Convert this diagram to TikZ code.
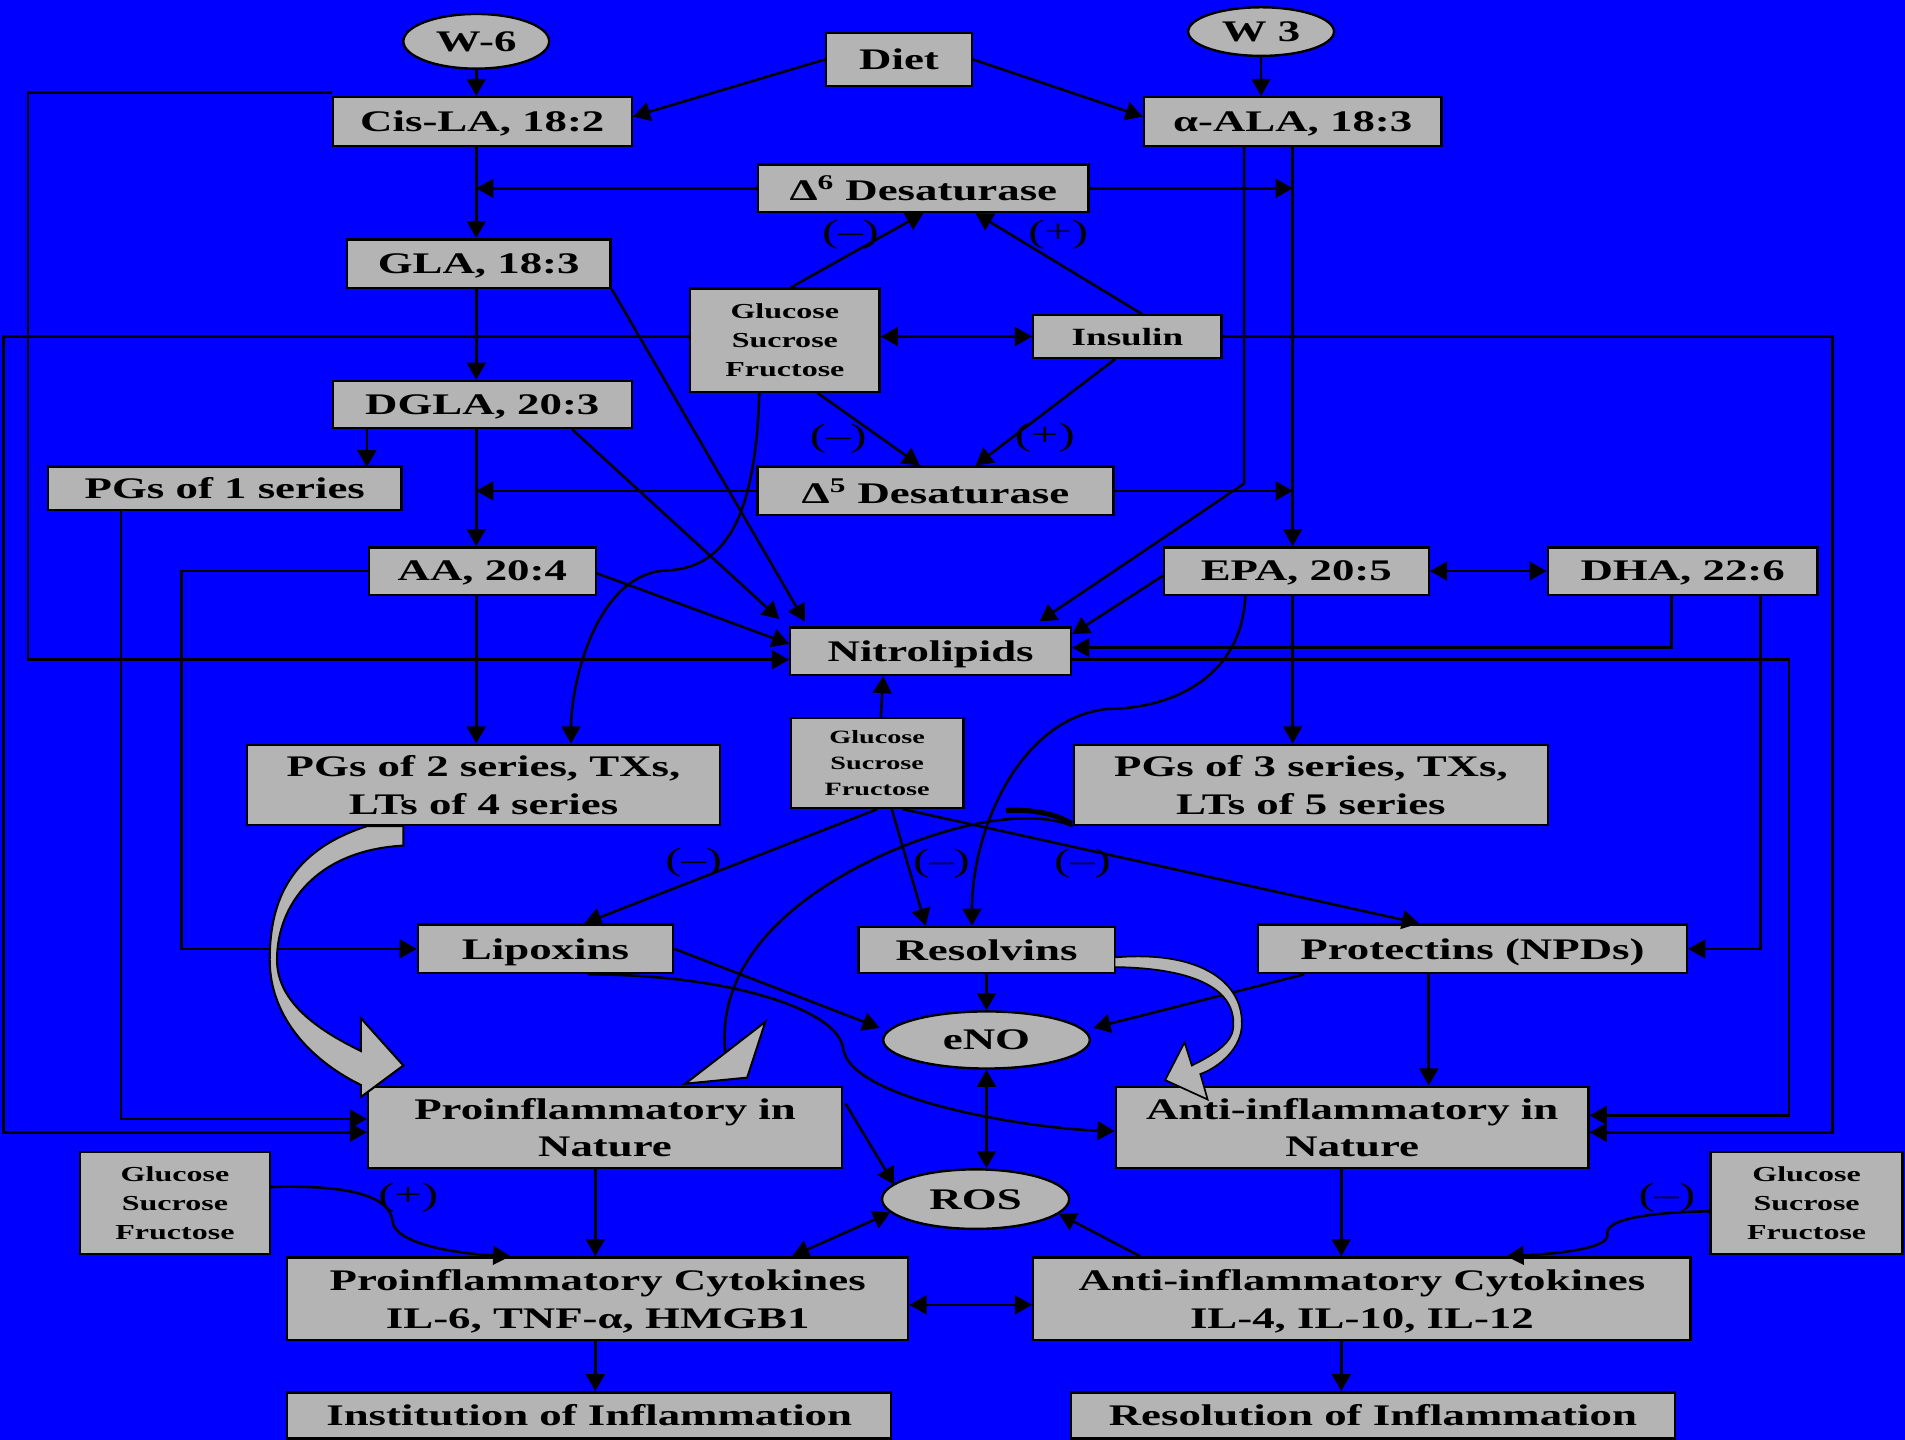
\documentclass[tikz,border=0pt]{standalone}
\usepackage{fontspec}
\setmainfont[FakeStretch=1.5]{Liberation Serif}
\usepackage{tikz}
\usetikzlibrary{arrows.meta,shapes.geometric,calc}
\definecolor{bgblue}{RGB}{0,0,255}
\definecolor{boxgray}{RGB}{180,180,180}
\newcommand{\bigtxt}{\fontsize{17.5}{22}\selectfont\bfseries}
\newcommand{\sugartxt}{\fontsize{12.5}{17}\selectfont\bfseries}
\newcommand{\midsugartxt}{\fontsize{11}{15}\selectfont\bfseries}
\newcommand{\signtxt}{\fontsize{19}{22}\selectfont}
\tikzset{
  lipidbox/.style={draw=black,fill=boxgray,line width=1.4pt,inner sep=1pt,align=center,text depth=0pt,font=\bigtxt},
  oval/.style={lipidbox,ellipse},
  sugar/.style={lipidbox,font=\sugartxt},
  flow/.style={line width=1.5pt,-{Triangle[length=10pt,width=11pt]}},
  twoway/.style={line width=1.5pt,{Triangle[length=10pt,width=11pt]}-{Triangle[length=10pt,width=11pt]}},
  signlbl/.style={font=\signtxt,inner sep=0pt},
  blockarrow/.style={draw=black,fill=boxgray,line width=1.2pt},
}

\begin{document}
\begin{tikzpicture}[x=0.025cm,y=-0.025cm]
\fill[bgblue] (0,0) rectangle (1568,1185);
\useasboundingbox (0,0) rectangle (1568,1185);

% sources
\node[oval,minimum width=3cm,minimum height=1.125cm] (w6) at (392,34) {W-6};
\node[lipidbox,minimum width=3cm,minimum height=1.1cm] (diet) at (740,49) {Diet};
\node[oval,minimum width=3cm,minimum height=1cm] (w3) at (1038,26) {W 3};
\node[lipidbox,minimum width=6.15cm,minimum height=1cm] (cisla) at (397,100) {Cis-LA, 18:2};
\node[lipidbox,minimum width=6.125cm,minimum height=1cm] (ala) at (1064,100) {α-ALA, 18:3};

% enzymes and regulators
\node[lipidbox,minimum width=6.8cm,minimum height=0.975cm] (dsix) at (760,155) {Δ\textsuperscript{6} Desaturase};
\node[lipidbox,minimum width=7.325cm,minimum height=1cm] (dfive) at (770,404) {Δ\textsuperscript{5} Desaturase};
\node[sugar,minimum width=3.9cm,minimum height=2.125cm] (gsftop) at (646,280) {Glucose\\Sucrose\\Fructose};
\node[lipidbox,font=\fontsize{14.5}{16}\selectfont\bfseries,minimum width=3.875cm,minimum height=0.875cm] (insulin) at (928,277) {Insulin};

% omega-6 series
\node[lipidbox,minimum width=5.425cm,minimum height=1cm] (gla) at (394,217) {GLA, 18:3};
\node[lipidbox,minimum width=6.15cm,minimum height=0.975cm] (dgla) at (397,333) {DGLA, 20:3};
\node[lipidbox,minimum width=7.275cm,minimum height=0.9cm] (pgone) at (185,402) {PGs of 1 series};
\node[lipidbox,minimum width=4.675cm,minimum height=0.975cm] (aa) at (397,470) {AA, 20:4};
\node[lipidbox,minimum width=9.725cm,minimum height=1.65cm] (pgtwo) at (398,646) {PGs of 2 series, TXs,\\LTs of 4 series};

% omega-3 series
\node[lipidbox,minimum width=5.45cm,minimum height=0.975cm] (epa) at (1067,470) {EPA, 20:5};
\node[lipidbox,minimum width=5.55cm,minimum height=0.975cm] (dha) at (1385,470) {DHA, 22:6};
\node[lipidbox,minimum width=9.75cm,minimum height=1.65cm] (pgthree) at (1079,646) {PGs of 3 series, TXs,\\LTs of 5 series};

% middle
\node[lipidbox,minimum width=5.775cm,minimum height=0.975cm] (nitro) at (766,536) {Nitrolipids};
\node[sugar,font=\midsugartxt,minimum width=3.55cm,minimum height=1.85cm] (gsfmid) at (722,628) {Glucose\\Sucrose\\Fructose};
\node[lipidbox,minimum width=5.25cm,minimum height=1cm] (lipox) at (449,781) {Lipoxins};
\node[lipidbox,minimum width=5.275cm,minimum height=0.95cm] (resolv) at (812,782) {Resolvins};
\node[lipidbox,minimum width=8.825cm,minimum height=1cm] (protect) at (1212,781) {Protectins (NPDs)};
\node[oval,minimum width=4.25cm,minimum height=1.175cm] (eno) at (812,856) {eNO};
\node[oval,minimum width=3.85cm,minimum height=1.225cm] (ros) at (803,987) {ROS};

% outcomes
\node[lipidbox,minimum width=9.75cm,minimum height=1.675cm] (proinf) at (498,928) {Proinflammatory in\\Nature};
\node[lipidbox,minimum width=9.725cm,minimum height=1.675cm] (antinf) at (1113,928) {Anti-inflammatory in\\Nature};
\node[sugar,minimum width=3.9cm,minimum height=2.1cm] (gsfleft) at (144,990) {Glucose\\Sucrose\\Fructose};
\node[sugar,minimum width=3.95cm,minimum height=2.1cm] (gsfright) at (1487,990) {Glucose\\Sucrose\\Fructose};
\node[lipidbox,minimum width=12.775cm,minimum height=1.7cm] (procyt) at (492,1069) {Proinflammatory Cytokines\\IL-6, TNF-α, HMGB1};
\node[lipidbox,minimum width=13.525cm,minimum height=1.7cm] (anticyt) at (1121,1069) {Anti-inflammatory Cytokines\\IL-4, IL-10, IL-12};
\node[lipidbox,minimum width=12.425cm,minimum height=0.95cm] (instit) at (485,1165) {Institution of Inflammation};
\node[lipidbox,minimum width=12.425cm,minimum height=0.95cm] (resol) at (1130,1165) {Resolution of Inflammation};

% signs
\node[signlbl] (sa) at (700,193) {(--)};
\node[signlbl] (sb) at (871,193) {(+)};
\node[signlbl] (sc) at (690,361) {(--)};
\node[signlbl] (sd) at (860,360) {(+)};
\node[signlbl] (se) at (571,710) {(--)};
\node[signlbl] (sf) at (775,711) {(--)};
\node[signlbl] (sg) at (891,711) {(--)};
\node[signlbl] (sh) at (336,986) {(+)};
\node[signlbl] (si) at (1372,986) {(--)};

% diet
\draw[flow] (w6.south) -- (w6.south |- cisla.north);
\draw[flow] (w3.south) -- (w3.south |- ala.north);
\draw[flow] (diet.west) -- ($(cisla.east)+(0,-4)$);
\draw[flow] (diet.east) -- ($(ala.west)+(0,-4)$);

% omega-6 chain
\draw[flow] (cisla.south -| w6) -- (gla.north -| w6);
\draw[flow] (gla.south -| w6) -- (dgla.north -| w6);
\draw[flow] (dgla.south -| w6) -- (aa.north -| w6);
\draw[flow] (aa.south -| w6) -- (pgtwo.north -| w6);
\draw[flow] (dsix.west) -- (dsix.west -| w6);
\draw[flow] (dfive.west) -- (dfive.west -| w6);
\draw[flow] ($(dgla.south west)+(29,0)$) -- ++(0,31);
\draw[flow] ($(pgone.south west)+(61,0)$) |- ($(proinf.west)+(0,-7)$);
\draw[flow] (aa.west) -- ++(-153,0) |- (lipox.west);

% omega-3 chain
\draw[flow] (dsix.east) -- (dsix.east -| ala);
\draw[flow] (dfive.east) -- (dfive.east -| ala);
\draw[flow] (ala.south) -- (ala.south |- epa.north);
\draw[flow] (epa.south -| ala) -- (pgthree.north -| ala);
\draw[twoway] (epa.east) -- (dha.west);
\draw[flow] ($(dha.south)+(64,0)$) |- (protect.east);

% into nitrolipids
\draw[flow] (gla.south east) -- ($(nitro.north west)+(13,-4)$);
\draw[flow] ($(dgla.south)+(74,0)$) -- ($(nitro.north west)+(-8,-6)$);
\draw[flow] ($(aa.east)+(0,2)$) -- ($(nitro.west)+(0,-6)$);
\draw[flow] ($(cisla.north west)+(0,-3)$) -- ++(-250,0) |- ($(nitro.west)+(0,7)$);
\draw[flow] ($(ala.south)+(-40,0)$) -- ++(0,277) -- ($(nitro.north east)+(-27,-4)$);
\draw[flow] ($(epa.west)+(0,4)$) -- ($(nitro.east)+(0,-14)$);
\draw[flow] ($(dha.south)+(-9,0)$) |- ($(nitro.east)+(0,-3)$);
\draw[flow] ($(gsfmid.north)+(3,0)$) -- ($(nitro.south)+(-39,0)$);
\draw[flow] ($(nitro.east)+(0,7)$) -- ++(590,0) |- ($(antinf.east)+(0,-10)$);

% sugar and insulin
\draw[flow] ($(gsftop.north)+(5,0)$) -- (dsix.south);
\draw[flow] ($(insulin.north)+(12,0)$) -- ($(dsix.south)+(43,0)$);
\draw[flow] ($(gsftop.south)+(27,0)$) -- ($(dfive.north)+(-13,0)$);
\draw[flow] ($(insulin.south)+(-10,0)$) -- ($(dfive.north)+(33,0)$);
\draw[twoway] (gsftop.east |- insulin) -- (insulin.west);
\draw[flow] (gsftop.west |- insulin) -- ++(-564,0) |- ($(proinf.west)+(0,4)$);
\draw[flow] (insulin.east) -- ++(502,0) |- ($(antinf.east)+(0,4)$);
\draw[flow] ($(gsftop.south)+(-21,0)$) .. controls +(-3,95) and +(52,-2) .. ++(-76,146) .. controls +(-58,2) and +(0,-50) .. ($(pgtwo.north)+(72,0)$);
\draw[flow] ($(epa.south)+(-42,0)$) .. controls +(-3,70) and +(48,0) .. ++(-113,93) .. controls +(-72,7) and +(0,-80) .. ($(resolv.north)+(-12,0)$);

% mediators
\draw[flow] (gsfmid.south) -- ($(lipox.north)+(32,0)$);
\draw[flow] ($(gsfmid.south)+(12,0)$) -- ($(resolv.north)+(-50,0)$);
\draw[flow] ($(gsfmid.south)+(21,0)$) -- ($(protect.north)+(-44,0)$);
\draw[flow] (lipox.east) -- ($(eno.west)+(-2,-10)$);
\draw[flow] (resolv.south) -- (eno.north);
\draw[flow] ($(protect.south west)+(39,0)$) -- ($(eno.east)+(2,-10)$);
\draw[flow] ($(protect.south)+(-36,0)$) coordinate (pd) -- (pd |- antinf.north);
\draw[flow] ($(lipox.south)+(35,0)$) .. controls +(116,0) and +(-4,-32) .. ++(210,61) .. controls +(6,43) and +(-68,-2) .. ($(antinf.west)+(0,3)$);

% block arrows
\draw[blockarrow] (302,680) .. controls (240,700) and (222,740) .. (222,790) .. controls (222,840) and (260,875) .. (297,893) -- (297,903) -- (332,877) -- (297,838) -- (297,865) .. controls (262,848) and (228,825) .. (228,790) .. controls (228,745) and (260,700) .. (332,696) -- (332,680) -- cycle;
\draw[blockarrow] (564,892) -- (630,841) -- (615,887) -- cycle;
\draw[line width=1.5pt] (597,866) .. controls (590,800) and (640,750) .. (700,717) .. controls (760,684) and (840,662) .. (pgthree.south west);
\draw[line width=3pt] (828,667) .. controls (850,666) and (870,670) .. (882,678);
\draw[blockarrow,line width=1pt] (918,788) .. controls (990,782) and (1025,810) .. (1022,846) .. controls (1020,866) and (1000,880) .. (988,884) -- (994,905) -- (959,889) -- (975,858) -- (981,877) .. controls (995,870) and (1014,860) .. (1015,846) .. controls (1018,815) and (985,797) .. (918,796);

% lower part
\draw[twoway] (eno.south) -- (eno.south |- ros.north);
\draw[flow] ($(proinf.north east)+(2,15)$) -- ($(ros.west)+(11,-12)$);
\draw[flow] ($(proinf.south)+(-8,0)$) coordinate (pn) -- (pn |- procyt.north);
\draw[flow] ($(antinf.south)+(-9,0)$) coordinate (an) -- (an |- anticyt.north);
\draw[twoway] (ros.189) -- ($(procyt.north)+(160,0)$);
\draw[flow] ($(anticyt.north west)+(89,0)$) -- (ros.-10);
\draw[twoway] ($(procyt.east)+(0,5)$) -- ($(anticyt.west)+(0,5)$);
\draw[flow] (procyt.south -| pn) -- (instit.north -| pn);
\draw[flow] (anticyt.south -| an) -- (resol.north -| an);
\draw[flow] ($(gsfleft.east)+(0,-13)$) .. controls +(66,-2) and +(-2,-20) .. ++(100,28) .. controls +(2,20) and +(-40,-2) .. ($(procyt.north)+(-72,0)$);
\draw[flow] ($(gsfright.west)+(0,7)$) .. controls +(-58,1) and +(-2,-11) .. ++(-84,19) .. controls +(2,12) and +(40,-2) .. ($(anticyt.north)+(119,0)$);
\end{tikzpicture}
\end{document}
